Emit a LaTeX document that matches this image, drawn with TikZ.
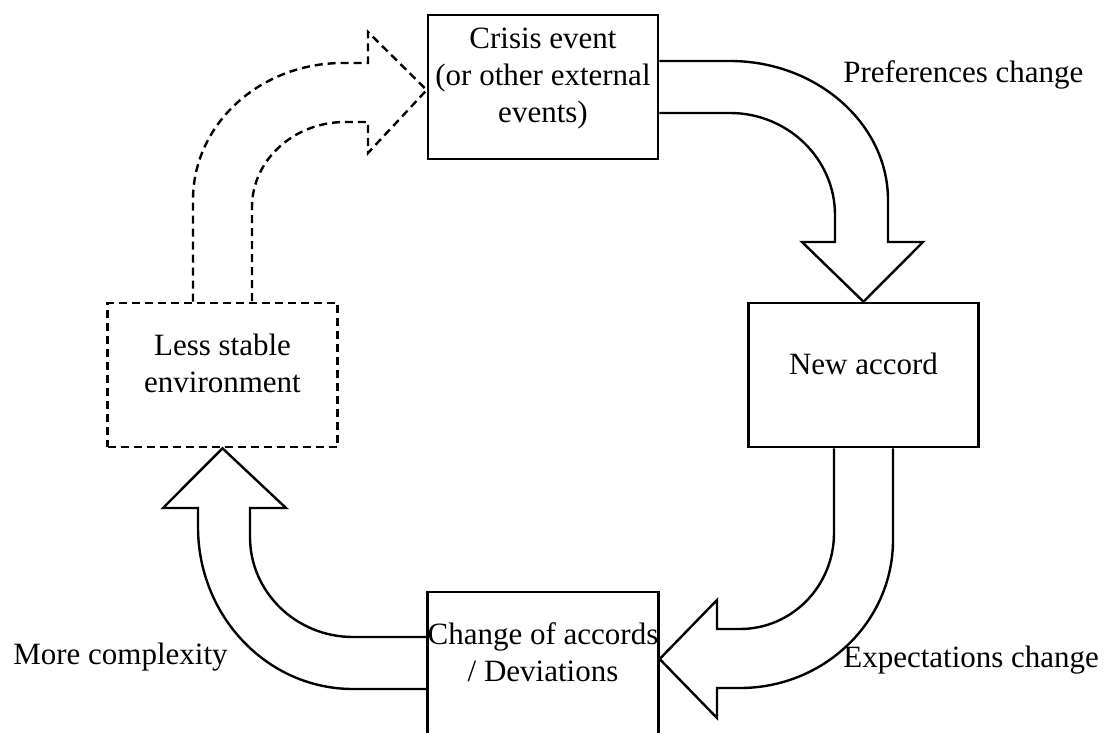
\documentclass[tikz,border=0pt]{standalone}
\usepackage{fontspec}
\setmainfont{Liberation Serif}

\begin{document}
\begin{tikzpicture}[x=1pt,y=-1pt,line width=2.6pt,
  accbox/.style={draw,minimum width=230pt,minimum height=144pt,inner sep=0pt,align=center,text depth=23pt,font=\fontsize{31}{37}\selectfont},
  envbox/.style={accbox,dash pattern=on 8pt off 5pt},
  note/.style={font=\fontsize{31}{37}\selectfont,inner sep=0pt,anchor=base west},
  fat/.style={line width=2.4pt},
  dfat/.style={fat,dash pattern=on 8pt off 5pt}]
\useasboundingbox (0,0) rectangle (1105,733);

 \node[accbox]  (crisis)   at (543,87)    {Crisis event\\(or other external\\events)};
 \node[accbox]  (accord)   at (863.5,375) {New accord};
 \node[accbox]  (change)   at (543,664)   {Change of accords\\/ Deviations};
 \node[envbox]  (unstable) at (222.5,375) {Less stable\\environment};

 \node[note] (pref)    at (842,83)  {Preferences change};
 \node[note] (expect)  at (842,667) {Expectations change};
 \node[note] (complex) at (12,664)  {More complexity};

 \draw[fat] ([yshift=26pt]crisis.east) -- (730,61) .. controls (817,61) and (888,124) .. (888,200)
   -- (888,242) -- (923,242) -- (accord.north) -- (802,242) -- (835,242) -- (835,215)
   .. controls (835,159) and (788,113) .. (730,113) -- ([yshift=-26pt]crisis.east);

 \draw[fat] ([xshift=-29.5pt]accord.south) -- (834,533) .. controls (834,586) and (792,629) .. (740,629)
   -- (717,629) -- (717,600) -- ([yshift=5pt]change.east) -- (717,718) -- (717,688) -- (740,688)
   .. controls (824,688) and (893,622) .. (893,540) -- ([xshift=29.5pt]accord.south);

 \draw[fat] ([yshift=27pt]change.west) -- (353,637) .. controls (296,637) and (250,592) .. (250,537)
   -- (250,508) -- (286,508) -- (unstable.south) -- (163,508) -- (198,508) -- (198,527)
   .. controls (198,616) and (267,689) .. (353,689) -- ([yshift=-25pt]change.west);

 \draw[dfat] ([xshift=-29.5pt]unstable.north) -- (193,200) .. controls (193,124) and (260,63) .. (343,63)
   -- (368,63) -- (368,32) -- ([yshift=-3pt]crisis.west) -- (368,153) -- (368,122) -- (345,122)
   .. controls (294,122) and (252,160) .. (252,207) -- ([xshift=29.5pt]unstable.north);
\end{tikzpicture}
\end{document}
